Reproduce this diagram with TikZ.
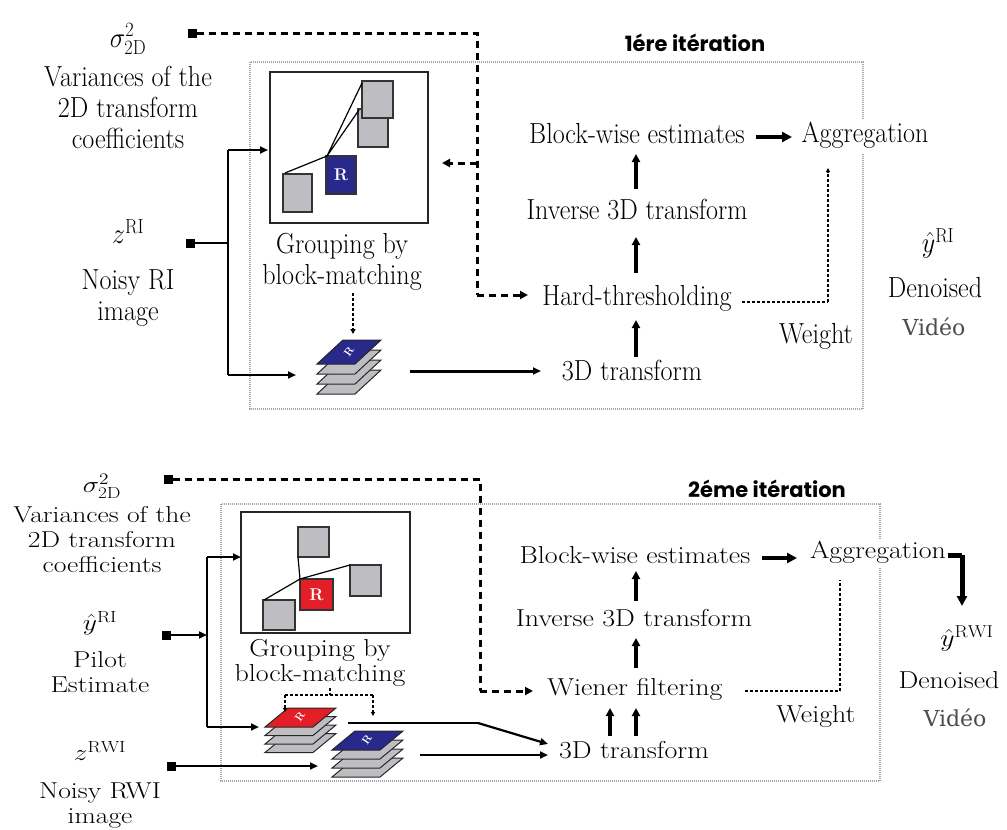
\RequirePackage{fix-cm}
\documentclass[tikz,border=0pt]{standalone}
\usepackage{fontspec}
\usepackage{graphicx}
\usetikzlibrary{arrows.meta}
\newfontfamily\iterfont{Poppins}
\newfontfamily\vidfont{DejaVu Serif}
\definecolor{refblue}{HTML}{29298C}
\definecolor{refred}{HTML}{E41E26}
\definecolor{sheetgray}{HTML}{BEBEC2}
% text blocks: top stage (tall, condensed), bottom stage, bottom-left labels
\newcommand\TT[1]{\scalebox{0.9}[1]{\fontsize{29}{31}\selectfont\begin{tabular}{@{}c@{}}#1\end{tabular}}}
\newcommand\BT[1]{\scalebox{1.14}[1]{\fontsize{24.5}{25}\selectfont\begin{tabular}{@{}c@{}}#1\end{tabular}}}
\newcommand\BL[1]{\scalebox{1.2}[1]{\fontsize{23}{25}\selectfont\begin{tabular}{@{}c@{}}#1\end{tabular}}}
% one sheet of a 3D group: corner x, y, width, slant, height, colour
\newcommand\sheet[6]{\filldraw[fill=#6, draw=black!85, line width=1pt] (#1,#2) -- ++(#3,0) -- ++(#4,-#5) -- ++(-#3,0) -- cycle;}
\tikzset{
  lab/.style={inner sep=0pt, outer sep=0pt},
  term/.style={fill=black, minimum size=9pt, inner sep=0pt},
  flow/.style={line width=2.2pt, -{Triangle[length=8pt,width=7pt]}},
  plain/.style={line width=2.2pt},
  up/.style={line width=3.5pt, -{Triangle[length=8pt,width=8pt]}},
  fat/.style={line width=4.5pt, -{Triangle[length=10pt,width=10pt]}},
  ctrl/.style={line width=3pt, dash pattern=on 7pt off 5pt},
  ctrlarr/.style={ctrl, -{Triangle[length=8pt,width=8pt]}},
  wgt/.style={line width=1.1pt, dash pattern=on 3pt off 2pt},
  wgtarr/.style={wgt, -{Triangle[length=4pt,width=4pt]}},
  frame/.style={draw=gray!70, line width=1.3pt, dash pattern=on 1pt off 1pt},
  grpbox/.style={draw=black!85, line width=1.4pt},
  blk/.style={fill=sheetgray, draw=black!80, line width=1.3pt},
  refR/.style={text=white, font=\bfseries\fontsize{17}{17}\selectfont, inner sep=0pt},
  sheetR/.style={text=white, font=\bfseries\fontsize{11}{11}\selectfont, inner sep=0pt, rotate=55},
  iter/.style={lab, font=\iterfont\bfseries\fontsize{21}{21}\selectfont},
  vid/.style={lab, text=black!70, font=\vidfont\fontsize{22}{22}\selectfont},
}
\begin{document}
\begin{tikzpicture}[x=1pt, y=-1pt]
\fill[white] (0,0) rectangle (1007,830);
\useasboundingbox (0,0) rectangle (1007,830);

%======================== first iteration ========================
\draw[frame] (250,62) rectangle (863,409);
\node[iter] (itA) at (695,43) {1ére itération};

% inputs
\node[lab] (sigA) at (128,40) {\TT{$\sigma^{2}_{\mathrm{2D}}$}};
\node[lab] (varA) at (128,111) {\TT{Variances of the\\2D transform\\coefficients}};
\node[lab] (zA) at (128,236) {\TT{$z^{\mathrm{RI}}$}};
\node[lab] (noisyA) at (128,299) {\TT{Noisy RI\\image}};
\node[term] (sA) at (192,33) {};
\node[term] (tA) at (190,243) {};

% block-matching box
\draw[grpbox] (270,72) rectangle (428,223);
\filldraw[blk] (358,109) rectangle (388,147);
\filldraw[blk] (362,81) rectangle (393,118);
\filldraw[blk] (283,174) rectangle (312,212);
\filldraw[fill=refblue, draw=black!80, line width=1.3pt] (326,156) rectangle (356,194);
\node[refR] (rA) at (341,175) {R};
\draw[line width=1.2pt] (327,156) -- (285,173) (327,156) -- (362,83) (327,156) -- (359,110);
\node[lab] (grpA) at (342,263) {\TT{Grouping by\\block-matching}};

% stacked group
\foreach \k in {3,2,1} {\sheet{317}{364+10*\k}{38}{26}{24}{sheetgray}}
\sheet{317}{364}{38}{26}{24}{refblue}
\node[sheetR] (gA) at (349,352) {R};

% processing chain
\node[lab] (tdA) at (632,374) {\TT{3D transform}};
\node[lab] (htA) at (637,299) {\TT{Hard-thresholding}};
\node[lab] (invA) at (637,213) {\TT{Inverse 3D transform}};
\node[lab] (bwA) at (637,137) {\TT{Block-wise estimates}};
\node[lab, fill=white, inner sep=2pt] (aggA) at (865,136) {\TT{Aggregation}};
\node[lab] (wA) at (816,337) {\TT{Weight}};
\node[lab] (yA) at (938,245) {\TT{$\hat{y}^{\mathrm{RI}}$}};
\node[lab] (denA) at (935,291) {\TT{Denoised}};
\node[vid] (vidA) at (934,327) {Vidéo};

% connectors
\coordinate (jA) at (228,243);
\coordinate (jAt) at (228,150);
\coordinate (jAb) at (228,375);
\draw[plain] (tA.east) -- (jA);
\draw[plain] (jAt) -- (jAb);
\draw[flow] (jAt) -- (268,150);
\draw[flow] (jAb) -- (296,375);
\coordinate (cA1) at (477,33);
\coordinate (cA2) at (477,295);
\coordinate (cA3) at (477,163);
\draw[ctrl] (sA.east) -- (cA1) -- (cA2);
\draw[ctrlarr] (cA2) -- (528,295);
\draw[ctrlarr] (cA3) -- (442,163);
\draw[wgt, -{Triangle[length=5pt,width=5pt]}] (353,293) -- (353,334);
\draw[flow, line width=3pt] (410,371) -- (541,371);
\draw[up] (636,357) -- (636,320);
\draw[up] (636,273) -- (636,237);
\draw[up] (636,189) -- (636,154);
\draw[fat] (756,137) -- (792,137);
\coordinate (wA1) at (828,302);
\draw[wgt] (742,302) -- (wA1);
\draw[wgtarr] (wA1) -- (828,168);

%======================== second iteration ========================
\draw[frame] (221,504) rectangle (880,781);
\node[iter] (itB) at (767,489) {2éme itération};

% inputs
\node[lab] (sigB) at (102,487) {\BL{$\sigma^{2}_{\mathrm{2D}}$}};
\node[lab] (varB) at (102,542) {\BL{Variances of the\\2D transform\\coefficients}};
\node[lab] (yB) at (100,625) {\BL{$\hat{y}^{\mathrm{RI}}$}};
\node[lab] (pilotB) at (100,675) {\BL{Pilot\\Estimate}};
\node[lab] (zB) at (100,755) {\BL{$z^{\mathrm{RWI}}$}};
\node[lab] (noisyB) at (100,806) {\BL{Noisy RWI\\image}};
\node[term] (sB) at (168,479) {};
\node[term] (tB) at (166,635) {};
\node[term] (uB) at (171,766) {};

% block-matching box
\draw[grpbox] (241,512) rectangle (410,633);
\filldraw[blk] (298,527) rectangle (329,557);
\filldraw[blk] (350,565) rectangle (381,596);
\filldraw[blk] (263,600) rectangle (295,630);
\filldraw[fill=refred, draw=black!80, line width=1.3pt] (300,579) rectangle (333,610);
\node[refR] (rB) at (316.5,594.5) {R};
\draw[line width=1.2pt] (300,579) -- (298,557) (300,579) -- (264,600) (300,579) -- (350,565);
\node[lab] (grpB) at (320,664) {\BT{Grouping by\\block-matching}};

% stacked groups
\foreach \k in {3,2,1} {\sheet{265}{727+8.5*\k}{48}{23}{19}{sheetgray}}
\sheet{265}{727}{48}{23}{19}{refred}
\node[sheetR] (gB1) at (300,717) {R};
\foreach \k in {3,2,1} {\sheet{332}{750+9*\k}{48}{23}{19}{sheetgray}}
\sheet{332}{750}{48}{23}{19}{refblue}
\node[sheetR] (gB2) at (367,740) {R};

% processing chain
\node[lab] (tdB) at (634,753) {\BT{3D transform}};
\node[lab] (wfB) at (635,690) {\BT{Wiener filtering}};
\node[lab] (invB) at (634,621) {\BT{Inverse 3D transform}};
\node[lab] (bwB) at (635,558) {\BT{Block-wise estimates}};
\node[lab, fill=white, inner sep=2pt] (aggB) at (878,553) {\BT{Aggregation}};
\node[lab] (wB) at (816,717) {\BT{Weight}};
\node[lab] (yRWI) at (967,640) {\BT{$\hat{y}^{\mathrm{RWI}}$}};
\node[lab] (denB) at (949,683) {\BT{Denoised}};
\node[vid] (vidB) at (955,718) {Vidéo};

% connectors
\coordinate (jB) at (207,635);
\coordinate (jBt) at (207,557);
\coordinate (jBb) at (207,727);
\draw[flow] (tB.east) -- (jB);
\draw[plain] (jBt) -- (jBb);
\draw[flow] (jBt) -- (241,557);
\draw[flow] (jBb) -- (259,727);
\draw[flow] (uB.east) -- (318,766);
\coordinate (cB1) at (480,479);
\coordinate (cB2) at (480,691);
\draw[ctrl] (sB.east) -- (cB1) -- (cB2);
\draw[ctrlarr] (cB2) -- (533,691);
% grouping result feeds both stacks
\coordinate (bk0) at (330,688);
\coordinate (bkL) at (285,695);
\coordinate (bkR) at (373,695);
\draw[wgt] (bk0) -- (330,695);
\draw[wgt] (bkL) -- (bkR);
\draw[wgtarr] (bkL) -- (285,712);
\draw[wgtarr] (bkR) -- (373,716);
\coordinate (rl) at (478,723);
\draw[plain] (348,723) -- (rl);
\draw[flow] (rl) -- (548,744);
\draw[flow] (420,755) -- (548,755);
\draw[up] (610,736) -- (610,708);
\draw[up] (636,736) -- (636,708);
\draw[up] (636,668) -- (636,638);
\draw[up] (636,601) -- (636,571);
\draw[fat, line width=3.5pt] (762,558) -- (797,558);
\coordinate (oB) at (962,555);
\draw[line width=5pt] (948,555) -- (oB);
\draw[fat, line width=5pt] (oB) -- (962,606);
\coordinate (wB1) at (840,691);
\draw[wgt] (745,691) -- (wB1);
\draw[wgt] (wB1) -- (840,580);
\end{tikzpicture}
\end{document}
